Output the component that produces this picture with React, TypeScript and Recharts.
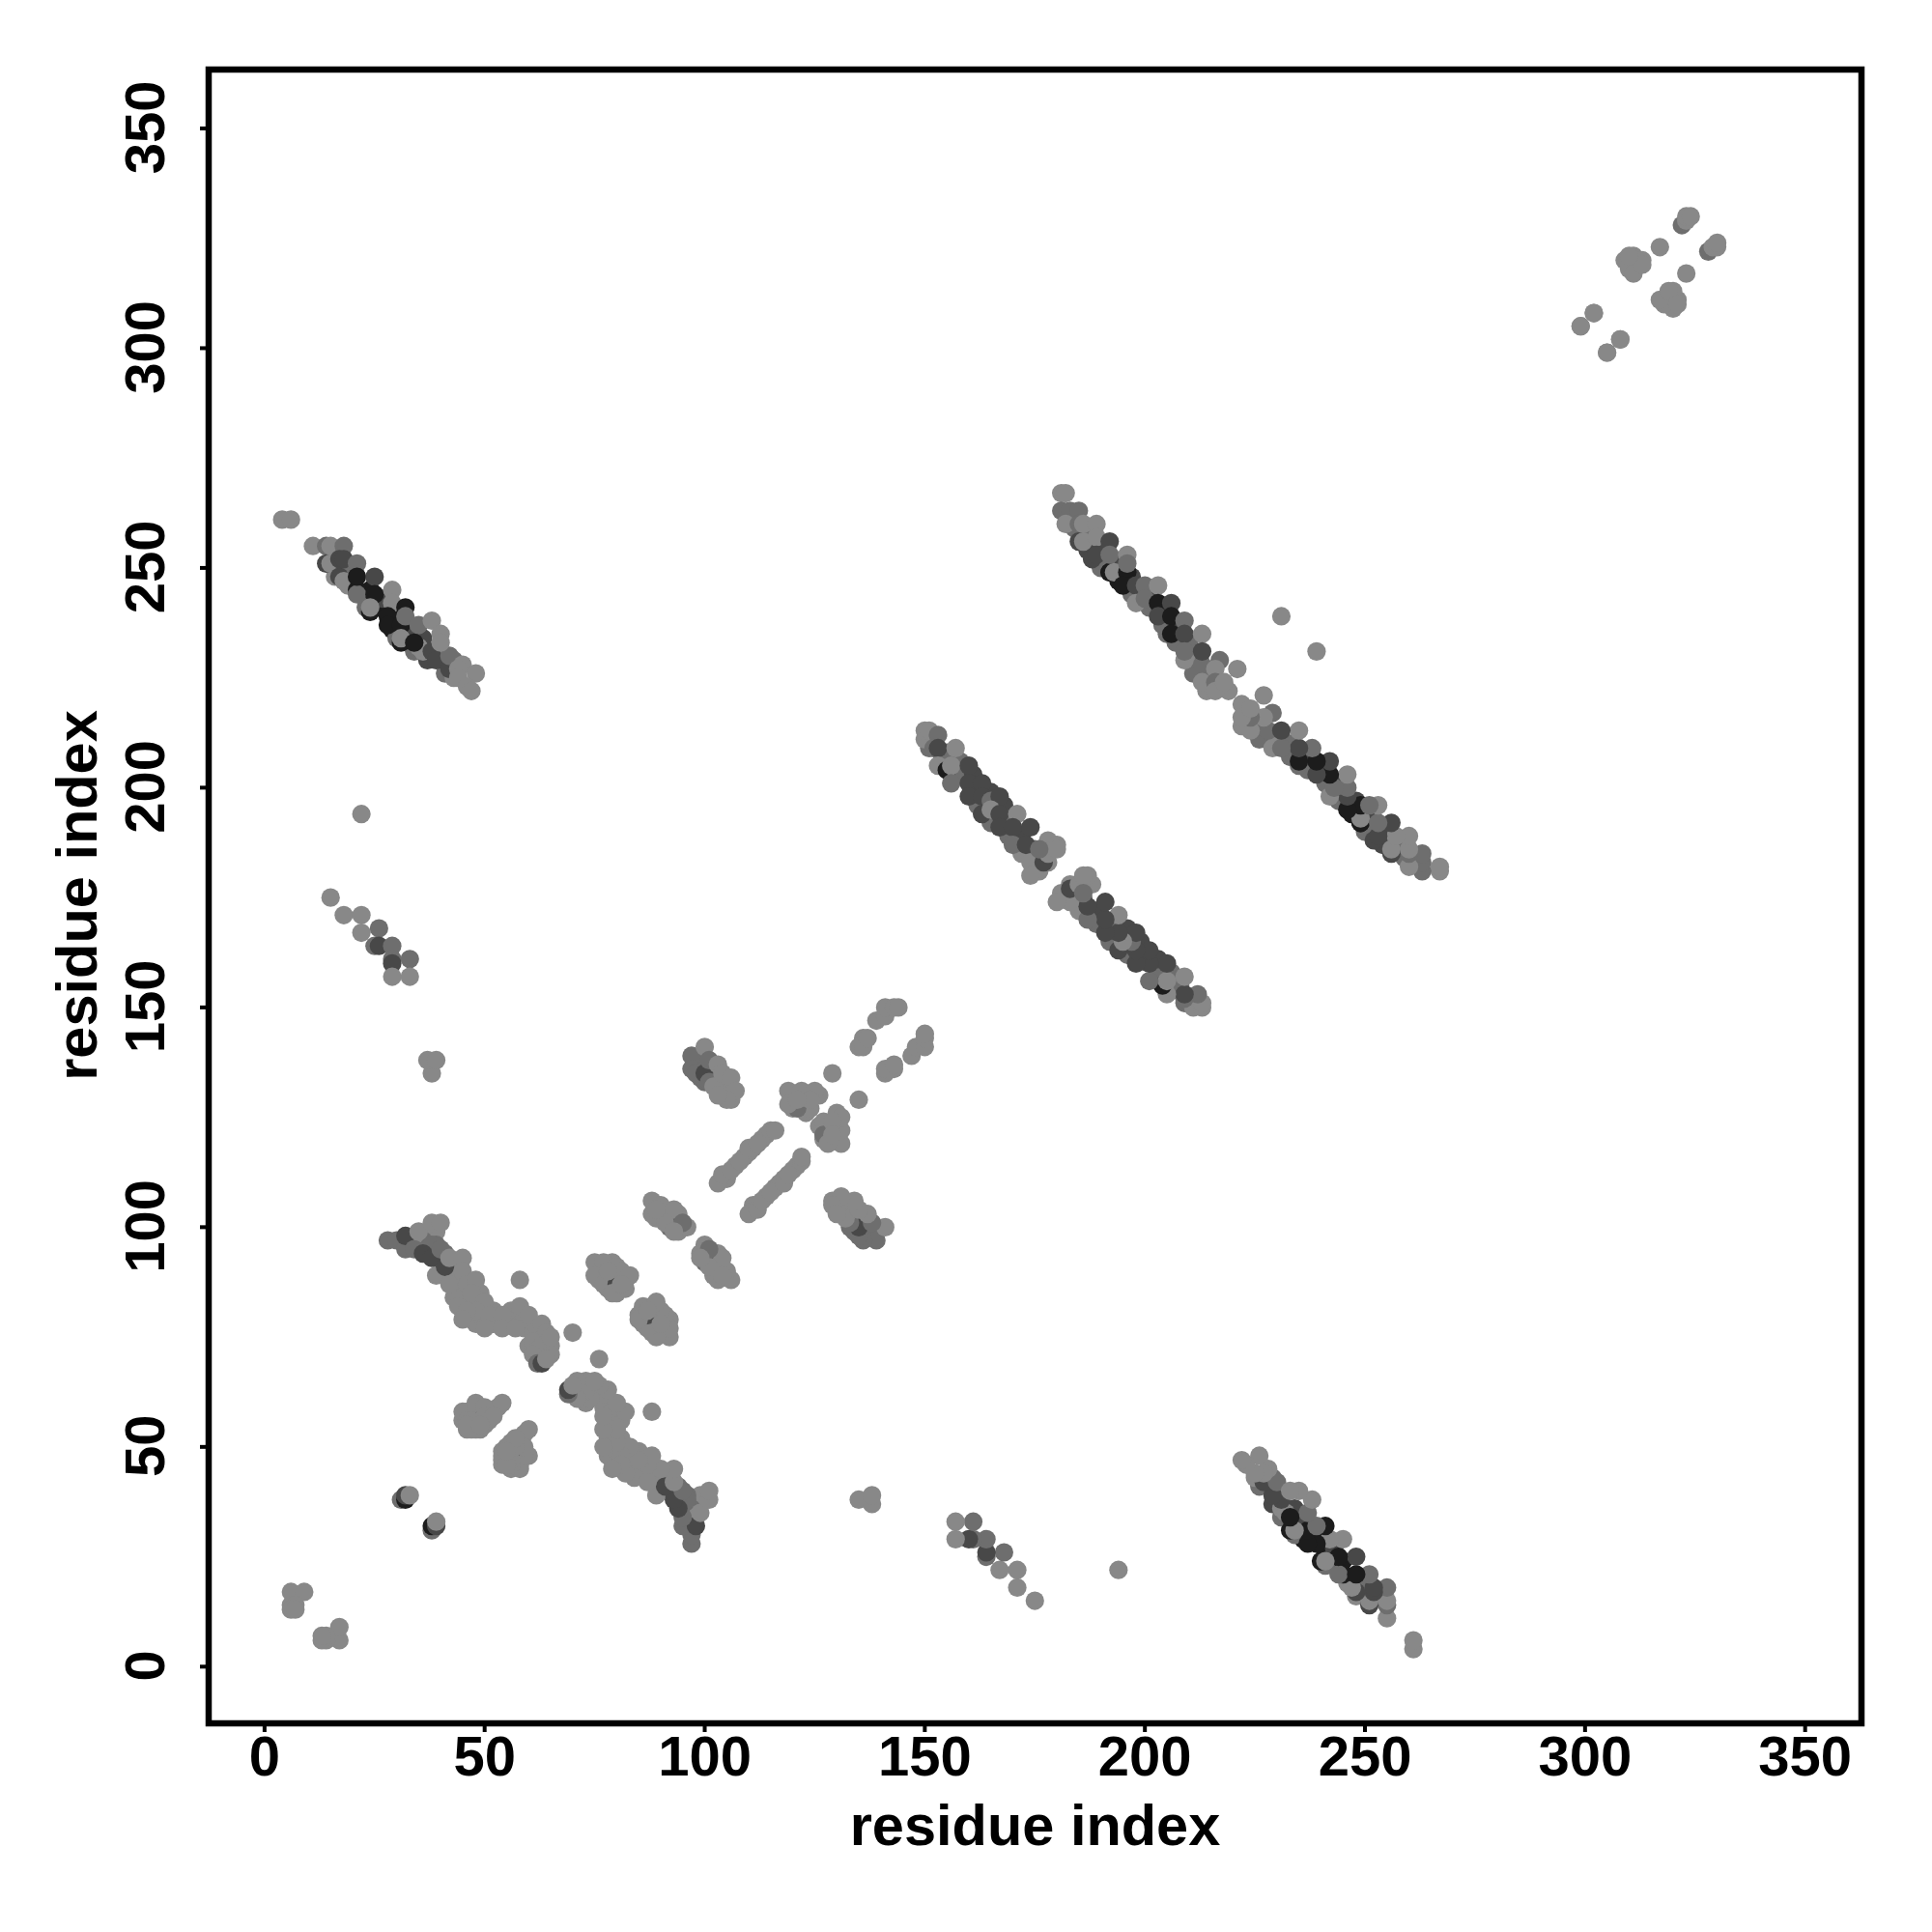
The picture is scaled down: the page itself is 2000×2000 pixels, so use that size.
import { ScatterChart, Scatter, XAxis, YAxis, ReferenceArea } from 'recharts'

// contact pairs read from the map: [residue i, residue j, darkness 1..4]
// the map is symmetric, each pair is plotted at (i, j) and (j, i)
type Contact = [number, number, number]

const tickValues = [0, 50, 100, 150, 200, 250, 300, 350]
const xDomain: [number, number] = [-12.7, 362.8]
const yDomain: [number, number] = [-12.9, 363.4]

// pairs that are mostly hidden under the others, drawn first
const packingLate: Contact[] = [
  [19, 249, 2], [20, 247, 3], [23, 243, 3], [24, 245, 4], [26, 241, 4], [27, 243, 3], [23, 241, 2],
  [30, 239, 4], [29, 236, 4], [33, 235, 3], [30, 234, 2], [36, 234, 3], [34, 231, 2], [37, 229, 3], [41, 226, 2],
  [43, 225, 1], [43, 229, 2], [36, 231, 1], [16, 250, 2], [16, 248, 1], [19, 246, 1],
]

const packingLong: Contact[] = [
  [183, 261, 2], [187, 258, 2], [187, 254, 3], [190, 254, 3], [190, 250, 2], [194, 251, 3], [194, 247, 4],
  [197, 248, 3], [197, 244, 2], [199, 244, 2], [201, 244, 3], [201, 241, 2], [204, 240, 3], [204, 237, 2],
  [207, 237, 3], [207, 233, 2], [210, 233, 2], [211, 229, 1], [211, 226, 2], [214, 226, 2], [214, 222, 1],
  [219, 222, 1], [184, 259, 2], [191, 251, 2],
]

const packingMiddle: Contact[] = [
  [151, 209, 2], [154, 207, 2], [155, 208, 2], [158, 203, 2], [158, 206, 2], [161, 203, 3], [161, 199, 3],
  [162, 196, 2], [165, 199, 3], [165, 192, 2], [168, 196, 3], [168, 193, 2], [169, 189, 2], [172, 189, 3],
  [172, 185, 1], [175, 186, 2], [176, 181, 1], [178, 183, 1],
]

const packingSheet: Contact[] = [
  [37, 97, 2], [37, 99, 1], [39, 99, 1], [36, 97, 2], [34, 98, 1], [39, 96, 2], [41, 94, 2], [43, 90, 1],
  [43, 88, 1], [44, 92, 1], [44, 85, 1], [45, 84, 1], [46, 84, 1], [47, 83, 1], [43, 84, 1], [45, 81, 1],
  [47, 79, 1], [48, 78, 1], [49, 80, 1], [49, 85, 1], [50, 80, 1], [52, 78, 1], [53, 79, 1], [52, 81, 1],
  [56, 79, 1], [56, 81, 1], [58, 78, 1], [59, 80, 1], [59, 77, 1], [60, 78, 1], [61, 76, 1], [62, 74, 1],
  [62, 77, 1], [63, 75, 1], [64, 73, 1], [64, 71, 1], [63, 71, 1], [60, 73, 1], [61, 72, 1], [62, 70, 1],
  [65, 73, 1], [37, 95, 2], [40, 92, 2], [42, 90, 1], [38, 96, 2],
  [46, 58, 1], [47, 58, 1], [49, 58, 1], [51, 58, 1], [47, 54, 1], [49, 54, 1], [50, 55, 1], [51, 56, 1],
  [47, 55, 1], [45, 56, 1], [53, 59, 1],
  [76, 90, 1], [76, 88, 1], [78, 88, 1], [79, 87, 2], [78, 86, 1], [82, 88, 1], [80, 85, 1], [82, 86, 1],
  [79, 92, 1], [89, 105, 1], [90, 102, 1], [91, 103, 1], [92, 102, 1], [92, 100, 2], [94, 99, 1], [94, 103, 1],
  [96, 100, 1], [89, 102, 1], [104, 111, 1], [105, 111, 1], [107, 114, 1], [109, 116, 1], [111, 118, 1],
  [113, 120, 1], [114, 121, 1], [105, 112, 1], [110, 117, 1],
  [98, 138, 2], [99, 137, 2], [99, 134, 2], [100, 137, 2], [102, 135, 2], [102, 136, 1], [104, 133, 1],
  [105, 132, 1], [106, 131, 1], [104, 130, 1], [100, 133, 2], [106, 129, 1],
  [120, 130, 1], [121, 130, 1], [123, 130, 1], [120, 127, 1], [122, 127, 1], [123, 126, 1], [120, 128, 1],
  [122, 128, 1], [124, 127, 1], [126, 130, 1], [136, 142, 1], [136, 143, 1],
]

const strandEarly: Contact[] = [
  [6, 17, 1], [9, 17, 1], [6, 14, 1], [7, 14, 1], [6, 13, 1], [7, 13, 1],
  [31, 38, 2], [32, 38, 4], [32, 39, 3], [33, 39, 1],
]

const strandLate: Contact[] = [
  [4, 261, 1], [6, 261, 1], [11, 255, 1], [14, 255, 2], [15, 255, 1], [18, 255, 2],
  [14, 251, 3], [15, 251, 1], [17, 248, 3], [18, 247, 1], [17, 252, 3], [18, 252, 3], [21, 251, 2],
  [21, 245, 4], [21, 244, 2], [21, 248, 4], [25, 248, 3], [25, 244, 4], [24, 240, 4], [24, 241, 1],
  [29, 245, 1], [29, 242, 1], [28, 239, 4], [28, 237, 4], [31, 237, 4], [31, 233, 4], [31, 234, 1],
  [32, 241, 4], [32, 239, 2], [35, 237, 2], [38, 238, 1], [35, 232, 1], [34, 233, 4],
  [38, 231, 3], [39, 229, 3], [42, 227, 3], [42, 230, 2], [40, 235, 1], [40, 233, 1],
  [45, 228, 1], [48, 226, 1], [44, 227, 1], [44, 225, 1], [46, 223, 1], [47, 222, 1],
]

const strandLong: Contact[] = [
  [181, 267, 1], [182, 267, 1], [181, 263, 2], [183, 263, 2], [185, 263, 2], [182, 260, 1],
  [185, 260, 2], [186, 260, 1], [189, 260, 1], [185, 256, 3], [188, 256, 3], [186, 256, 1],
  [189, 257, 1], [192, 256, 3], [188, 252, 3], [189, 253, 3], [192, 249, 4], [192, 249, 4],
  [192, 253, 2], [193, 249, 1], [196, 253, 1], [196, 249, 4], [195, 246, 4], [196, 251, 2],
  [198, 246, 3], [200, 246, 2], [203, 246, 1], [198, 242, 1], [200, 243, 2], [203, 242, 4],
  [206, 242, 3], [203, 239, 3], [206, 239, 4], [209, 238, 2], [205, 235, 2], [206, 235, 4],
  [209, 235, 3], [213, 235, 1], [209, 229, 1], [209, 231, 2], [213, 228, 2], [213, 231, 3],
  [213, 224, 1], [217, 229, 2], [216, 227, 1], [216, 224, 2], [216, 222, 1], [218, 224, 1],
  [221, 227, 1],
]

const strandMiddle: Contact[] = [
  [150, 211, 1], [150, 213, 1], [151, 213, 1], [153, 212, 2], [152, 209, 2], [153, 209, 3],
  [157, 209, 1], [153, 205, 1], [155, 204, 4], [156, 205, 1], [156, 201, 2], [160, 205, 3],
  [160, 201, 3], [163, 201, 3], [160, 198, 3], [163, 198, 3], [165, 197, 2], [167, 198, 3],
  [163, 194, 3], [165, 195, 1], [167, 194, 3], [171, 194, 1], [167, 191, 3], [170, 191, 3],
  [174, 191, 3], [170, 187, 2], [173, 187, 3], [178, 188, 1], [180, 187, 1], [174, 183, 1],
  [177, 183, 3], [174, 180, 1], [178, 185, 1], [180, 186, 1], [176, 186, 2],
]

const strandAcross: Contact[] = [
  [15, 175, 1], [18, 171, 1], [22, 171, 1], [22, 167, 1], [26, 168, 2], [25, 164, 2], [26, 164, 3],
  [29, 164, 2], [29, 161, 2], [29, 160, 3], [29, 157, 1], [33, 161, 2], [33, 157, 1],
]

const sheetNear: Contact[] = [
  [45, 58, 1], [48, 60, 1], [48, 59, 1], [50, 59, 1], [54, 60, 1], [46, 54, 1], [48, 54, 1],
  [49, 56, 3], [46, 56, 1], [47, 56, 1], [46, 55, 1], [50, 57, 1], [52, 57, 1], [49, 55, 1],
  [28, 97, 2], [30, 97, 2], [32, 95, 2], [32, 98, 3], [34, 95, 2], [35, 99, 1], [36, 94, 3],
  [38, 93, 3], [38, 101, 1], [40, 101, 1], [40, 95, 2], [39, 89, 1], [41, 91, 3], [42, 93, 1],
  [45, 93, 1], [45, 90, 1], [42, 87, 1], [46, 87, 1], [48, 88, 1], [47, 85, 1], [44, 82, 1],
  [50, 83, 1], [48, 81, 1], [46, 81, 1], [45, 79, 1], [51, 80, 1], [50, 77, 1], [54, 80, 1],
  [54, 77, 1], [57, 77, 1], [58, 82, 1], [60, 80, 1], [63, 78, 1], [64, 76, 1], [61, 74, 1],
  [62, 72, 1], [63, 73, 1], [65, 75, 1], [61, 71, 1], [65, 71, 1], [62, 69, 2], [63, 69, 3],
  [64, 70, 1], [58, 88, 1], [70, 76, 1],
]

const sheetCentre: Contact[] = [
  [75, 92, 1], [77, 92, 1], [75, 89, 1], [77, 87, 1], [80, 87, 3], [80, 91, 1], [81, 90, 1],
  [83, 89, 1], [79, 85, 1], [81, 87, 1], [78, 90, 1],
  [88, 106, 1], [88, 103, 1], [90, 105, 1], [93, 100, 3], [93, 104, 1], [91, 101, 1], [95, 101, 2],
  [93, 99, 1], [89, 104, 1],
  [103, 110, 1], [104, 112, 1], [106, 113, 1], [108, 115, 1], [110, 118, 1], [112, 119, 1],
  [115, 122, 1], [116, 122, 1],
  [97, 139, 2], [97, 136, 2], [98, 135, 2], [100, 135, 3], [100, 141, 1], [101, 138, 2],
  [101, 133, 2], [102, 132, 1], [103, 137, 1], [104, 135, 1], [106, 134, 1], [107, 131, 1],
  [105, 129, 1], [103, 130, 1],
  [121, 127, 2], [119, 131, 1], [119, 128, 1], [122, 131, 1], [125, 131, 1], [124, 129, 1], [121, 129, 1],
  [129, 135, 1], [135, 141, 1], [136, 141, 1], [137, 143, 1], [139, 147, 1], [141, 148, 1],
  [141, 150, 1], [143, 150, 1], [144, 150, 1],
]

const scattered: Contact[] = [
  [22, 194, 1], [231, 239, 1], [38, 135, 1], [37, 138, 1], [39, 138, 1],
  [299, 305, 1], [302, 308, 1], [305, 299, 1], [308, 302, 1],
  [309, 320, 1], [310, 318, 1], [311, 321, 1], [311, 317, 1], [313, 320, 1], [313, 319, 1], [310, 321, 1],
  [317, 323, 1], [322, 328, 2], [323, 329, 1], [323, 330, 1], [324, 330, 1],
]

const contacts = [
  ...packingLate, ...packingLong, ...packingMiddle, ...packingSheet,
  ...strandEarly, ...strandLate, ...strandLong, ...strandMiddle,
  ...strandAcross, ...sheetNear, ...sheetCentre, ...scattered,
]

const points = contacts.flatMap(([i, j, dark]) => [
  { x: i, y: j, dark },
  { x: j, y: i, dark },
])

const SHADES = ['', '#888888', '#6e6e6e', '#484848', '#1c1c1c']
const FONT = '"Liberation Sans", Arial, sans-serif'

const ContactDot = (props: any) => (
  <circle cx={props.cx} cy={props.cy} r={9.6} fill={SHADES[props.payload.dark]} />
)

const BottomTick = ({ x, y, payload }: any) => (
  <text x={x} y={y + 43} textAnchor="middle" fontFamily={FONT} fontWeight="bold" fontSize={58} fill="#000">
    {payload.value}
  </text>
)

const LeftTick = ({ x, y, payload }: any) => (
  <text
    transform={`translate(${x - 35},${y - 1}) rotate(-90)`}
    textAnchor="middle"
    fontFamily={FONT}
    fontWeight="bold"
    fontSize={58}
    fill="#000"
  >
    {payload.value}
  </text>
)

export default function App() {
  return (
    <div style={{ position: 'absolute', left: 0, top: 0, width: 2000, height: 2000, background: '#fff' }}>
      <ScatterChart width={2000} height={2000} margin={{ top: 72, right: 73, bottom: 76, left: 116 }}>
        <XAxis
          type="number"
          dataKey="x"
          domain={xDomain}
          ticks={tickValues}
          allowDataOverflow
          height={140}
          tick={<BottomTick />}
          tickSize={9}
          tickLine={{ stroke: '#000', strokeWidth: 4 }}
          axisLine={false}
          interval={0}
          label={{
            value: 'residue index',
            position: 'insideBottom',
            offset: 14,
            style: { fontFamily: FONT, fontWeight: 'bold', fontSize: 59.5, fill: '#000' },
          }}
        />
        <YAxis
          type="number"
          dataKey="y"
          domain={yDomain}
          ticks={tickValues}
          allowDataOverflow
          width={100}
          tick={<LeftTick />}
          tickSize={9}
          tickLine={{ stroke: '#000', strokeWidth: 4 }}
          axisLine={false}
          interval={0}
        />
        <Scatter data={points} isAnimationActive={false} shape={<ContactDot />} />
        <ReferenceArea
          x1={xDomain[0]}
          x2={xDomain[1]}
          y1={yDomain[0]}
          y2={yDomain[1]}
          fill="none"
          stroke="#000"
          strokeWidth={6.5}
          ifOverflow="visible"
        />
      </ScatterChart>
      <div
        style={{
          position: 'absolute',
          left: 79,
          top: 927,
          transform: 'translate(-50%,-50%) rotate(-90deg)',
          fontFamily: FONT,
          fontWeight: 'bold',
          fontSize: 59.5,
          whiteSpace: 'nowrap',
        }}
      >
        residue index
      </div>
    </div>
  )
}
